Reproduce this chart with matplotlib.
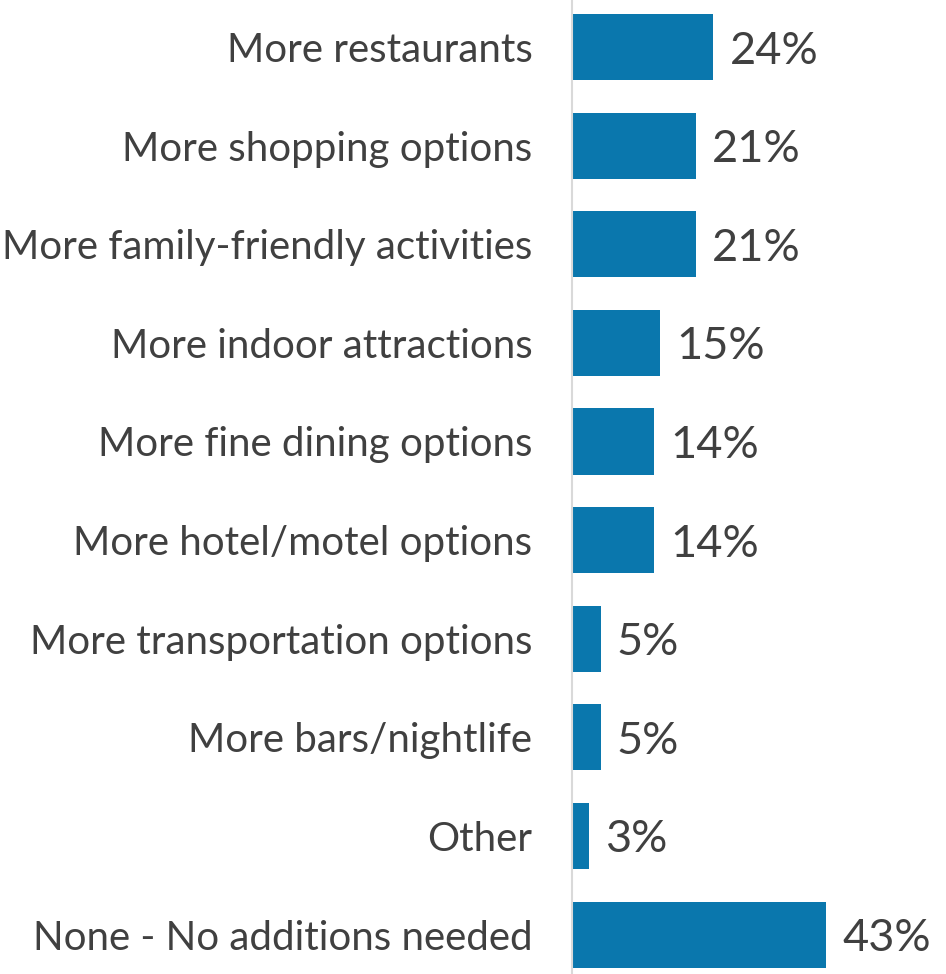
import matplotlib
matplotlib.use("Agg")
import matplotlib.pyplot as plt

categories = [
    "More restaurants",
    "More shopping options",
    "More family-friendly activities",
    "More indoor attractions",
    "More fine dining options",
    "More hotel/motel options",
    "More transportation options",
    "More bars/nightlife",
    "Other",
    "None - No additions needed",
]
values = [24, 21, 21, 15, 14, 14, 5, 5, 3, 43]
value_labels = [f"{v}%" for v in values]

BAR_COLOR = "#0a77ad"
TEXT_COLOR = "#404040"
AXIS_COLOR = "#d9d9d9"

plt.rcParams["font.family"] = ["Lato", "DejaVu Sans"]

W, H, DPI = 946, 974, 100
fig = plt.figure(figsize=(W / DPI, H / DPI), dpi=DPI)
ax_left = 572 / W
ax = fig.add_axes([ax_left, 0, 1 - ax_left, 1])

pos = list(range(len(categories)))
ax.barh(pos, values, height=0.67, color=BAR_COLOR, left=0)

px_per_unit = 5.93
ax.set_xlim(0.15, 0.15 + (W - 572) / px_per_unit)
ax.set_ylim(len(categories) - 1 + 0.40, -0.477)

ax.set_yticks(pos)
ax.set_yticklabels(categories, fontsize=29, color=TEXT_COLOR)
ax.tick_params(axis="y", length=0, pad=28.5)
ax.set_xticks([])

for s in ["top", "right", "bottom"]:
    ax.spines[s].set_visible(False)
ax.spines["left"].set_color(AXIS_COLOR)
ax.spines["left"].set_linewidth(1.5)

for p, v, lab in zip(pos, values, value_labels):
    ax.annotate(lab, xy=(v, p), xytext=(11.5, 0), textcoords="offset points",
                ha="left", va="center_baseline", fontsize=32.5, color=TEXT_COLOR)

fig.savefig("out.png", dpi=DPI, facecolor="white")
